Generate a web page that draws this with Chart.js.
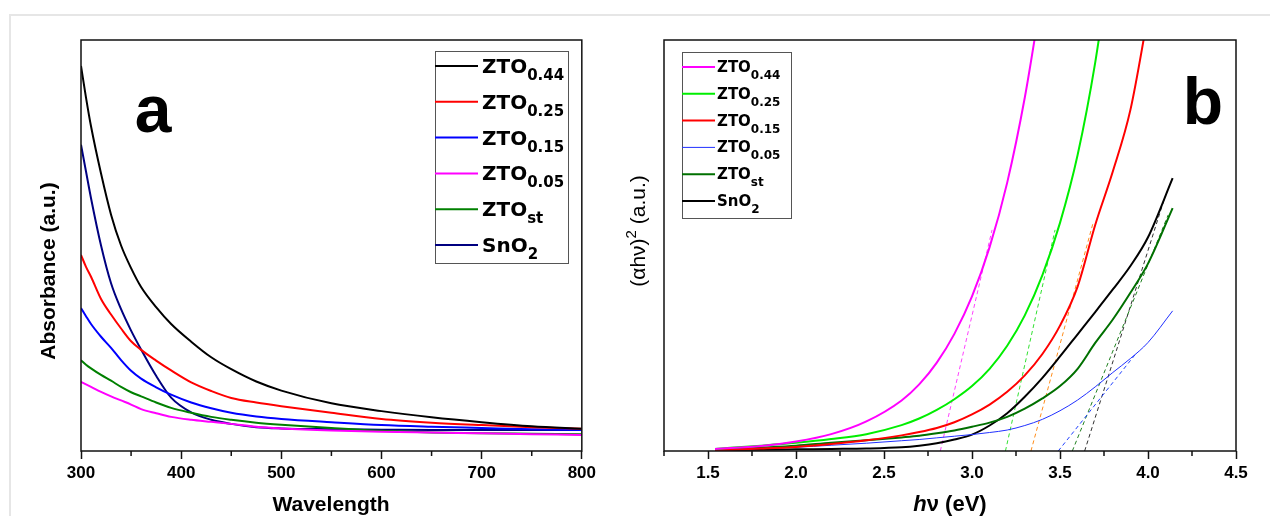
<!DOCTYPE html>
<html>
<head>
<meta charset="utf-8">
<script src="https://cdn.jsdelivr.net/npm/chart.js@4.4.0/dist/chart.umd.min.js"></script>
<style>
  html, body { margin: 0; padding: 0; background: #fff; }
  body { width: 1270px; height: 516px; position: relative; overflow: hidden; }
  #frame { position: absolute; left: 9px; top: 14px; width: 1300px; height: 600px;
           border-top: 2px solid #e6e6e6; border-left: 2px solid #e6e6e6; }
  .panel { position: absolute; top: 0; height: 516px; }
  #panelA { left: 0; width: 600px; }
  #panelB { left: 600px; width: 670px; }
</style>
</head>
<body>
<div id="frame"></div>
<div class="panel" id="panelA"><canvas id="chartA" width="600" height="516"></canvas></div>
<div class="panel" id="panelB"><canvas id="chartB" width="670" height="516"></canvas></div>
<script>
// ---- panel a : absorbance vs wavelength ----
const wavelength = [300, 305, 310, 320, 330, 340, 350, 360, 375, 390, 410, 430, 450, 475, 500, 550, 600, 650, 700, 750, 800];
const absZTO044 = [93.7, 86.0, 79.0, 67.5, 57.5, 50.0, 44.5, 39.9, 35.0, 30.9, 26.6, 22.8, 19.9, 16.9, 14.7, 11.6, 9.7, 8.2, 7.0, 6.0, 5.4];
const absZTO025 = [47.7, 44.8, 42.4, 37.0, 33.2, 29.8, 26.7, 24.6, 22.0, 19.6, 16.7, 14.6, 12.9, 11.8, 10.9, 9.3, 7.8, 6.9, 6.3, 5.8, 5.4];
const absZTO015 = [34.8, 32.8, 30.9, 27.8, 25.1, 22.1, 19.5, 17.6, 15.5, 13.7, 11.8, 10.4, 9.3, 8.4, 7.8, 7.0, 6.3, 5.9, 5.6, 5.3, 5.1];
const absZTO005 = [16.8, 16.2, 15.6, 14.4, 13.3, 12.3, 11.3, 10.2, 9.2, 8.3, 7.6, 7.1, 6.6, 5.9, 5.5, 5.0, 4.7, 4.5, 4.3, 4.1, 3.9];
const absZTOst  = [22.1, 21.0, 20.1, 18.5, 17.1, 15.6, 14.3, 13.3, 11.8, 10.5, 9.3, 8.3, 7.6, 6.9, 6.4, 5.6, 4.9, 4.5, 4.3, 4.2, 4.1];
const absSnO2   = [74.5, 68.0, 61.5, 50.0, 40.8, 34.5, 29.3, 24.7, 18.3, 13.0, 9.4, 7.6, 6.6, 5.8, 5.5, 5.3, 5.2, 5.1, 5.1, 5.1, 5.1];
const wlTicks = { min: 300, max: 800, step: 100 };

// ---- panel b : (ahv)^2 vs hv ----
const energy = [1.54, 1.8, 2.0, 2.2, 2.4, 2.6, 2.7, 2.8, 2.9, 3.0, 3.1, 3.2, 3.3, 3.4, 3.5, 3.6, 3.7, 3.8, 3.9, 4.0, 4.14];
const tzZTO044 = [0.5, 1.2, 2.3, 4.1, 7.2, 12.3, 16.2, 21.5, 28.5, 37.6, 49.6, 65.3, 86.0, 112, null, null, null, null, null, null, null];
const tzZTO025 = [0.5, 1.3, 2.0, 2.9, 4.1, 6.3, 7.9, 10.0, 12.6, 15.8, 20.0, 25.6, 33.0, 42.8, 55.5, 72.0, 94.5, 124, null, null, null];
const tzZTO015 = [0.2, 0.6, 1.0, 1.7, 2.6, 3.8, 4.6, 5.6, 7.0, 8.9, 11.3, 14.4, 18.4, 23.6, 30.5, 40.0, 55.0, 68.0, 83.0, 106, null];
const tzZTO005 = [0.2, 0.6, 0.9, 1.4, 1.9, 2.5, 2.8, 3.2, 3.6, 4.0, 4.5, 5.1, 6.2, 7.7, 9.8, 12.4, 15.6, 19.1, 22.5, 26.4, 34.1];
const tzZTOst  = [0.2, 0.8, 1.3, 2.0, 2.6, 3.3, 3.7, 4.3, 5.0, 5.9, 6.9, 8.3, 10.3, 12.8, 15.8, 20.0, 26.3, 32.0, 38.5, 45.6, 59.1];
const tzSnO2   = [0.2, 0.3, 0.4, 0.5, 0.6, 0.9, 1.3, 1.9, 2.8, 4.0, 6.2, 9.2, 13.2, 17.8, 23.0, 28.4, 33.8, 39.3, 45.0, 52.0, 66.4];
// tangent (band gap) lines: intercept on the energy axis, end point of the dashed line
const gapStart = [2.82, 3.19, 3.335, 3.49, 3.57, 3.64];
const gapEndX  = [3.114, 3.472, 3.688, 3.926, 4.114, 4.091];
const gapEndY  = [53.8, 53.8, 55.5, 23.4, 57.4, 61.1];
const gapColors = ['#ff40ff', '#30e030', '#ff8c1a', '#2040ff', '#208020', '#303030'];
const evTicks = { min: 1.25, max: 4.5, step: 0.5 };

const FONT = 'Liberation Sans, Arial, sans-serif';
const LEG_FONT = 'DejaVu Sans, sans-serif';

function pts(xs, ys) {
    return xs.map((x, i) => ({ x: x, y: ys[i] }));
}

function curve(label, sub, xs, ys, color, width) {
    return {
        label: label + sub,
        legendParts: [label, sub],
        data: pts(xs, ys),
        borderColor: color,
        borderWidth: width,
        pointRadius: 0,
        fill: false,
        cubicInterpolationMode: 'monotone'
    };
}

// draws text made of several runs (sub/superscripts, italic parts)
function drawParts(ctx, parts, x, y, rotate) {
    ctx.save();
    ctx.translate(x, y);
    if (rotate) ctx.rotate(-Math.PI / 2);
    ctx.textBaseline = 'alphabetic';
    ctx.textAlign = 'left';
    ctx.fillStyle = '#000';
    let total = 0;
    const widths = parts.map(p => { ctx.font = p.font; const w = ctx.measureText(p.text).width; total += w; return w; });
    let cx = -total / 2;
    parts.forEach((p, i) => {
        ctx.font = p.font;
        ctx.fillText(p.text, cx, p.dy || 0);
        cx += widths[i];
    });
    ctx.restore();
}

const framePlugin = {
    id: 'frame',
    afterDraw(chart, args, opts) {
        const ctx = chart.ctx;
        const a = chart.chartArea;
        const sx = chart.scales.x;
        ctx.save();
        ctx.strokeStyle = '#111';
        ctx.lineWidth = 1.5;
        ctx.strokeRect(a.left, a.top, a.right - a.left, a.bottom - a.top);
        // minor ticks halfway between the major ones
        const half = opts.step / 2;
        ctx.beginPath();
        for (let v = Math.ceil(sx.min / half) * half; v <= sx.max + 1e-9; v += half) {
            const k = v / opts.step;
            if (Math.abs(k - Math.round(k)) < 1e-6) continue;
            const px = sx.getPixelForValue(v);
            ctx.moveTo(px, a.bottom);
            ctx.lineTo(px, a.bottom + 5);
        }
        ctx.stroke();
        ctx.restore();
        (opts.texts || []).forEach(t => drawParts(ctx, t.parts, t.x, t.y, t.rotate));
    }
};

const subLegend = {
    id: 'subLegend',
    afterDraw(chart, args, o) {
        const ctx = chart.ctx;
        ctx.save();
        ctx.fillStyle = '#fff';
        ctx.fillRect(o.x, o.y, o.w, o.h);
        ctx.strokeStyle = '#555';
        ctx.lineWidth = 1;
        ctx.strokeRect(o.x + 0.5, o.y + 0.5, o.w, o.h);
        chart.data.datasets.filter(d => d.legendParts).forEach((d, i) => {
            const y = o.y + o.first + i * o.step;
            ctx.strokeStyle = d.borderColor;
            ctx.lineWidth = d.borderWidth;
            ctx.beginPath();
            ctx.moveTo(o.x, y);
            ctx.lineTo(o.x + o.line, y);
            ctx.stroke();
            ctx.fillStyle = '#000';
            ctx.textBaseline = 'alphabetic';
            const tx = o.x + o.line + o.gap;
            ctx.font = 'bold ' + o.size + 'px ' + LEG_FONT;
            ctx.fillText(d.legendParts[0], tx, y + o.base);
            const w = ctx.measureText(d.legendParts[0]).width;
            ctx.font = 'bold ' + o.subSize + 'px ' + LEG_FONT;
            ctx.fillText(d.legendParts[1], tx + w, y + o.subBase);
        });
        ctx.restore();
    }
};

function xAxis(t, fit) {
    return {
        type: 'linear',
        min: t.min,
        max: t.max,
        ticks: {
            stepSize: t.step,
            includeBounds: false,
            color: '#000',
            padding: 4,
            maxRotation: 0,
            font: { family: FONT, size: 17, weight: 'bold' },
            callback: v => t.step < 1 ? v.toFixed(1) : v
        },
        afterBuildTicks: s => {
            s.ticks = s.ticks.filter(k => Math.abs(k.value / t.step - Math.round(k.value / t.step)) < 1e-6);
        },
        grid: { display: true, drawOnChartArea: false, drawTicks: true, tickLength: 8, tickWidth: 1.5, tickColor: '#111' },
        border: { display: false },
        afterFit: s => { s.height = fit; }
    };
}

function yAxis(fit) {
    return {
        type: 'linear',
        min: 0,
        max: 100,
        ticks: { display: false },
        grid: { display: false },
        border: { display: false },
        afterFit: s => { s.width = fit; }
    };
}

try {
    new Chart(document.getElementById('chartA').getContext('2d'), {
        type: 'line',
        data: {
            datasets: [
                curve('ZTO', '0.44', wavelength, absZTO044, '#000000', 2),
                curve('ZTO', '0.25', wavelength, absZTO025, '#ff0000', 2),
                curve('ZTO', '0.15', wavelength, absZTO015, '#0000ff', 2),
                curve('ZTO', '0.05', wavelength, absZTO005, '#ff00ff', 2),
                curve('ZTO', 'st', wavelength, absZTOst, '#008000', 2),
                curve('SnO', '2', wavelength, absSnO2, '#000080', 2)
            ]
        },
        options: {
            responsive: false,
            animation: false,
            events: [],
            layout: { padding: { top: 40, right: 18, left: 0, bottom: 0 } },
            scales: { x: xAxis(wlTicks, 65), y: yAxis(81) },
            plugins: {
                legend: { display: false },
                tooltip: { enabled: false },
                frame: {
                    step: wlTicks.step,
                    texts: [
                        { parts: [{ text: 'Wavelength', font: 'bold 21px ' + FONT }], x: 331, y: 511 },
                        { parts: [{ text: 'Absorbance (a.u.)', font: 'bold 21px ' + FONT }], x: 55, y: 271, rotate: true },
                        { parts: [{ text: 'a', font: 'bold 66px ' + FONT }], x: 153, y: 132 }
                    ]
                },
                subLegend: { x: 435, y: 51, w: 133, h: 212, first: 15, step: 35.8, line: 43, gap: 4, size: 20, subSize: 15, base: 7, subBase: 14 }
            }
        },
        plugins: [framePlugin, subLegend]
    });

    const gapLines = gapStart.map((x0, i) => ({
        data: [{ x: x0, y: 0 }, { x: gapEndX[i], y: gapEndY[i] }],
        borderColor: gapColors[i],
        borderWidth: 1,
        borderDash: [4, 3],
        pointRadius: 0,
        fill: false
    }));

    new Chart(document.getElementById('chartB').getContext('2d'), {
        type: 'line',
        data: {
            datasets: [
                curve('ZTO', '0.44', energy, tzZTO044, '#ff00ff', 2),
                curve('ZTO', '0.25', energy, tzZTO025, '#00ee00', 2),
                curve('ZTO', '0.15', energy, tzZTO015, '#ff0000', 2),
                curve('ZTO', '0.05', energy, tzZTO005, '#2030ff', 1),
                curve('ZTO', 'st', energy, tzZTOst, '#007000', 2),
                curve('SnO', '2', energy, tzSnO2, '#000000', 2)
            ].concat(gapLines)
        },
        options: {
            responsive: false,
            animation: false,
            events: [],
            layout: { padding: { top: 40, right: 34, left: 0, bottom: 0 } },
            scales: { x: xAxis(evTicks, 65), y: yAxis(64) },
            plugins: {
                legend: { display: false },
                tooltip: { enabled: false },
                frame: {
                    step: evTicks.step,
                    texts: [
                        { parts: [{ text: 'h', font: 'italic bold 22px ' + FONT }, { text: 'ν (eV)', font: 'bold 22px ' + FONT }], x: 350, y: 511 },
                        { parts: [{ text: '(αhν)', font: '21px ' + FONT }, { text: '2', font: '15px ' + FONT, dy: -9 }, { text: ' (a.u.)', font: '21px ' + FONT }], x: 45, y: 231, rotate: true },
                        { parts: [{ text: 'b', font: 'bold 66px ' + FONT }], x: 603, y: 124 }
                    ]
                },
                subLegend: { x: 82, y: 52, w: 109, h: 166, first: 15, step: 26.8, line: 33, gap: 2, size: 15, subSize: 12, base: 5, subBase: 12 }
            }
        },
        plugins: [framePlugin, subLegend]
    });
} catch (error) {
    console.error('chart error:', error);
}
</script>
</body>
</html>
